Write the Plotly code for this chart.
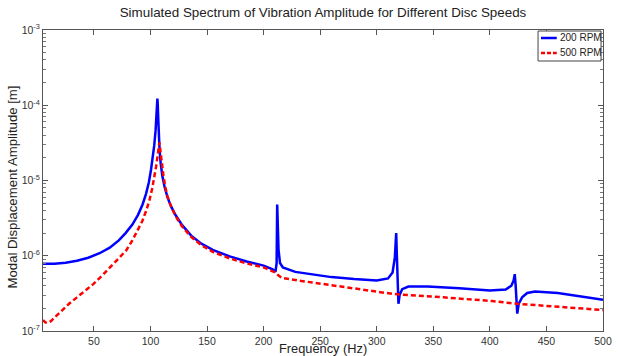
import plotly.graph_objects as go

# 200 RPM series
freq_200 = [5, 15, 25, 35, 45, 55, 64, 72, 78, 84, 89, 93, 96, 98.6, 100.5, 102, 103.3, 104.5, 105.4,
            105.9, 106.1, 106.4, 106.8, 107.3, 108, 109, 110.5, 112.5, 115, 118, 122, 128, 136, 145,
            155, 170, 185, 200, 208, 210.5, 211.5, 212.0, 212.6, 213.2, 214.5, 217, 228, 245, 260,
            280, 300, 310, 314, 316, 317.2, 317.8, 318.5, 319.2, 320.2, 322.5, 328, 345, 373, 400,
            414, 419, 421, 422, 422.8, 423.6, 424.2, 425.5, 428.5, 433, 440, 460, 480, 500]
amp_200 = [7.8e-7, 7.85e-7, 8.1e-7, 8.6e-7, 9.4e-7, 1.08e-6, 1.28e-6, 1.6e-6, 2.0e-6, 2.6e-6, 3.5e-6,
           4.8e-6, 6.6e-6, 9.5e-6, 1.4e-5, 2.0e-5, 2.9e-5, 4.6e-5, 7.5e-5, 1.05e-4, 1.23e-4, 1.05e-4,
           7.0e-5, 4.2e-5, 2.6e-5, 1.7e-5, 1.15e-5, 8.2e-6, 6.0e-6, 4.6e-6, 3.5e-6, 2.55e-6, 1.85e-6,
           1.45e-6, 1.2e-6, 9.8e-7, 8.4e-7, 7.4e-7, 6.6e-7, 6.1e-7, 8e-7, 4.8e-6, 3.0e-6, 1.2e-6,
           8.0e-7, 7.0e-7, 6.1e-7, 5.6e-7, 5.2e-7, 4.9e-7, 4.7e-7, 5.0e-7, 6.0e-7, 9.5e-7, 2.0e-6,
           1.0e-6, 3.5e-7, 2.3e-7, 3.0e-7, 3.6e-7, 3.9e-7, 3.9e-7, 3.7e-7, 3.45e-7, 3.55e-7, 4.0e-7,
           4.7e-7, 5.7e-7, 4.0e-7, 2.2e-7, 1.7e-7, 2.3e-7, 2.8e-7, 3.2e-7, 3.35e-7, 3.2e-7, 2.9e-7,
           2.6e-7]

# 500 RPM series
freq_500 = [5, 7, 9, 12, 16, 20.5, 28, 35, 42, 49.4, 57, 64, 71, 78.4, 84, 89, 92.8, 96, 99, 101.5,
            103.5, 105, 106.3, 107.2, 107.9, 108.5, 109.2, 110.2, 111.5, 113, 115, 118, 122, 128,
            136, 145, 155, 170, 185, 200, 210, 213, 216, 230, 257.5, 290, 315, 359, 402, 424, 460, 500]
amp_500 = [1.4e-7, 1.3e-7, 1.28e-7, 1.35e-7, 1.55e-7, 1.8e-7, 2.3e-7, 2.8e-7, 3.4e-7, 4.2e-7, 5.4e-7,
           6.9e-7, 8.8e-7, 1.17e-6, 1.6e-6, 2.2e-6, 2.9e-6, 3.9e-6, 5.4e-6, 7.8e-6, 1.1e-5, 1.55e-5,
           2.1e-5, 2.8e-5, 3.2e-5, 2.7e-5, 2.1e-5, 1.6e-5, 1.15e-5, 8.3e-6, 6.2e-6, 4.6e-6, 3.4e-6,
           2.45e-6, 1.78e-6, 1.38e-6, 1.13e-6, 9.2e-7, 7.9e-7, 7.0e-7, 6.0e-7, 5.5e-7, 5.1e-7,
           4.7e-7, 4.1e-7, 3.5e-7, 3.1e-7, 2.8e-7, 2.5e-7, 2.3e-7, 2.1e-7, 1.9e-7]

series_names = ["200 RPM", "500 RPM"]
series_colors = ["#0000FF", "#FF0000"]
x_ticks = [50, 100, 150, 200, 250, 300, 350, 400, 450, 500]
y_ticks = [1e-7, 1e-6, 1e-5, 1e-4, 1e-3]
y_tick_text = ["10<sup>-7</sup>", "10<sup>-6</sup>", "10<sup>-5</sup>", "10<sup>-4</sup>", "10<sup>-3</sup>"]
y_minor = [m * 10 ** e for e in range(-7, -3) for m in range(2, 10)]

FONT = "Liberation Sans, Arial, sans-serif"
TXT = "#222"

fig = go.Figure()
fig.add_trace(go.Scatter(x=freq_200, y=amp_200, mode="lines", name=series_names[0],
                         line=dict(color=series_colors[0], width=2.5), showlegend=False))
fig.add_trace(go.Scatter(x=freq_500, y=amp_500, mode="lines", name=series_names[1],
                         line=dict(color=series_colors[1], width=2.5, dash="5px,3px"),
                         showlegend=False))

axis_common = dict(showline=True, linecolor="#555", linewidth=1, mirror="ticks",
                   ticks="inside", tickcolor="#555", ticklen=5, showgrid=False, zeroline=False,
                   tickfont=dict(family=FONT, size=10.5, color="#333"))

# plot area: left 43, right 612, top 30, bottom 331 (px)
FW, FH = 618, 356
L, R, T, B = 43, 612, 30, 331
W, H = R - L, B - T


def px(x):
    return (x - L) / W


def py(y):
    return 1 - (y - T) / H


annotations = [
    dict(text="Frequency (Hz)", x=px(327), y=py(348.5), xref="paper", yref="paper",
         xanchor="center", yanchor="middle", showarrow=False,
         font=dict(family=FONT, size=12.8, color=TXT)),
    dict(text="Modal Displacement Amplitude [m]", x=px(11), y=py(187), xref="paper", yref="paper",
         xanchor="center", yanchor="middle", showarrow=False, textangle=-90,
         font=dict(family=FONT, size=13.2, color=TXT)),
]

# compact legend drawn in paper space
shapes = [dict(type="rect", xref="paper", yref="paper", x0=px(546), x1=px(610), y0=py(61),
               y1=py(31), line=dict(color="#444", width=1), fillcolor="white", layer="above")]
for i, (name, col) in enumerate(zip(series_names, series_colors)):
    yy = 38 + i * 15
    shapes.append(dict(type="line", xref="paper", yref="paper", x0=px(549), x1=px(565),
                       y0=py(yy), y1=py(yy), layer="above",
                       line=dict(color=col, width=2.5, dash="solid" if i == 0 else "4px,2px")))
    annotations.append(dict(text=name, x=px(566), y=py(yy), xref="paper", yref="paper",
                            xanchor="left", yanchor="middle", showarrow=False,
                            font=dict(family=FONT, size=10, color=TXT)))

x_axis = dict(axis_common)
x_axis["tickfont"] = dict(family=FONT, size=10.5, color="#333")

fig.update_layout(
    width=FW, height=FH,
    margin=dict(l=L, r=FW - R, t=T, b=FH - B),
    paper_bgcolor="white", plot_bgcolor="white",
    font=dict(family=FONT, color=TXT),
    title=dict(text="Simulated Spectrum of Vibration Amplitude for Different Disc Speeds",
               x=px(327.5), xref="paper", xanchor="center", y=1 - 12 / FH, yanchor="middle",
               font=dict(family=FONT, size=13.4, color=TXT)),
    xaxis=dict(range=[5, 500], tickvals=x_ticks, ticklabeloverflow="allow", **x_axis),
    yaxis=dict(type="log", range=[-7, -3], tickvals=y_ticks, ticktext=y_tick_text,
               minor=dict(tickvals=y_minor, ticks="inside", ticklen=3, tickcolor="#777"),
               **axis_common),
    annotations=annotations,
    shapes=shapes,
    showlegend=False,
)

fig.write_html(
    "out.html",
    config={"displayModeBar": False},
    post_script="document.body.style.margin='0px';document.body.style.padding='0px';"
                "document.body.style.overflow='hidden';",
)
